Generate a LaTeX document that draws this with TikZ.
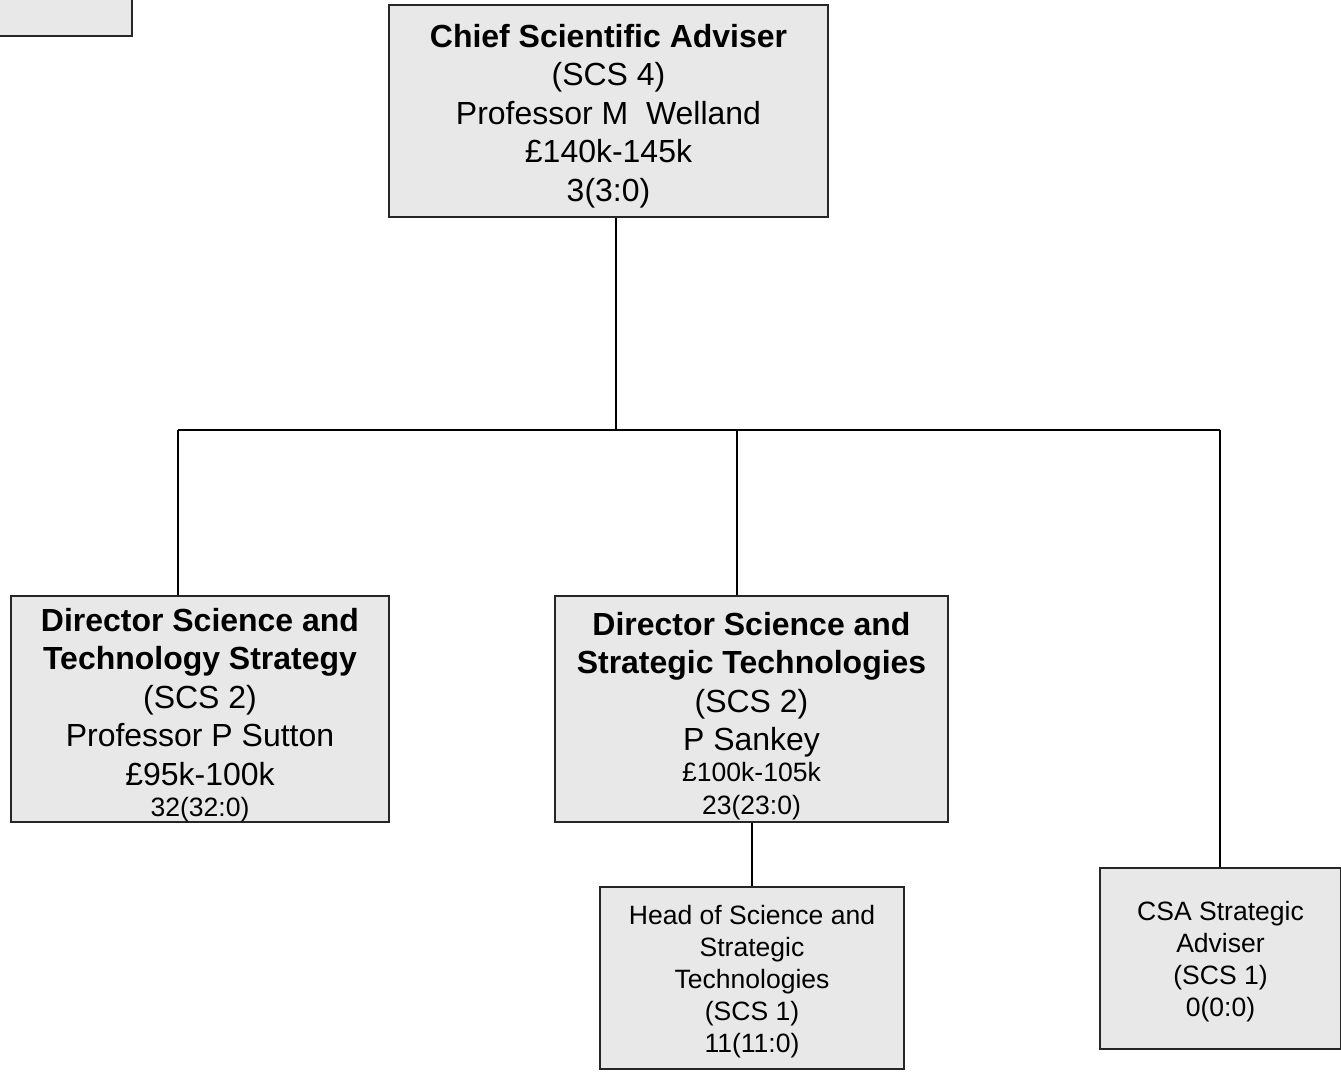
\documentclass[tikz,border=0pt]{standalone}
\usepackage{fontspec}
\setmainfont{Liberation Sans}
\usetikzlibrary{positioning}
\definecolor{boxgrey}{RGB}{232,232,232}
\tikzstyle{post}=[draw=black!85,fill=boxgrey,line width=0.7pt,inner sep=0pt]
\tikzstyle{posttext}=[inner sep=0pt,align=center]
\tikzstyle{link}=[line width=0.7pt]
\newcommand{\bigtext}{\fontsize{18.2}{21.9}\selectfont}
\newcommand{\midtext}{\fontsize{15.1}{18.2}\selectfont}

\begin{document}
\begin{tikzpicture}[x=0.02cm,y=-0.02cm]
  \useasboundingbox (0,0) rectangle (1341,1073);
  % box cut off at the page corner
  \draw[post] (-40,-40) rectangle (132,36);

  \node[post,minimum width=8.78cm,minimum height=4.24cm] (csa) at (608.5,111) {};
  \node[post,minimum width=7.56cm,minimum height=4.52cm] (dsts) at (200,709) {};
  \node[post,minimum width=7.86cm,minimum height=4.52cm] (dsst) at (751.5,709) {};
  \node[post,minimum width=6.08cm,minimum height=3.64cm] (head) at (752,978) {};
  \node[post,minimum width=4.82cm,minimum height=3.62cm] (adv) at (1220.5,958.5) {};

  \node[posttext,font=\bigtext] (csatext) at ([yshift=-0.1cm]csa.center)
    {\textbf{Chief Scientific Adviser}\\(SCS 4)\\Professor M\ \ Welland\\£140k-145k\\3(3:0)};
  \node[posttext,font=\bigtext] (dststext) at ([yshift=-0.12cm]dsts.center)
    {\textbf{Director Science and}\\\textbf{Technology Strategy}\\(SCS 2)\\Professor P Sutton\\£95k-100k\\[-4pt]{\midtext 32(32:0)}};
  \node[posttext,font=\bigtext] (dssttext) at ([yshift=-0.14cm]dsst.center)
    {\textbf{Director Science and}\\\textbf{Strategic Technologies}\\(SCS 2)\\P Sankey\\[-4.5pt]{\midtext £100k-105k}\\[-2.8pt]{\midtext 23(23:0)}};
  \node[posttext,font=\midtext] (headtext) at ([yshift=-0.07cm]head.center)
    {Head of Science and\\Strategic\\Technologies\\(SCS 1)\\11(11:0)};
  \node[posttext,font=\midtext] (advtext) at ([yshift=-0.06cm]adv.center)
    {CSA Strategic\\Adviser\\(SCS 1)\\0(0:0)};

  \coordinate (bus) at (616,430);
  \coordinate (busl) at (178,430);
  \coordinate (busm) at (737,430);
  \coordinate (busr) at (1220,430);
  \draw[link] (csa.south -| bus) -- (bus);
  \draw[link] (busl) -- (busr);
  \draw[link] (busl) -- (busl |- dsts.north);
  \draw[link] (busm) -- (busm |- dsst.north);
  \draw[link] (busr) -- (busr |- adv.north);
  \draw[link] (head.north |- dsst.south) -- (head.north);
\end{tikzpicture}
\end{document}
